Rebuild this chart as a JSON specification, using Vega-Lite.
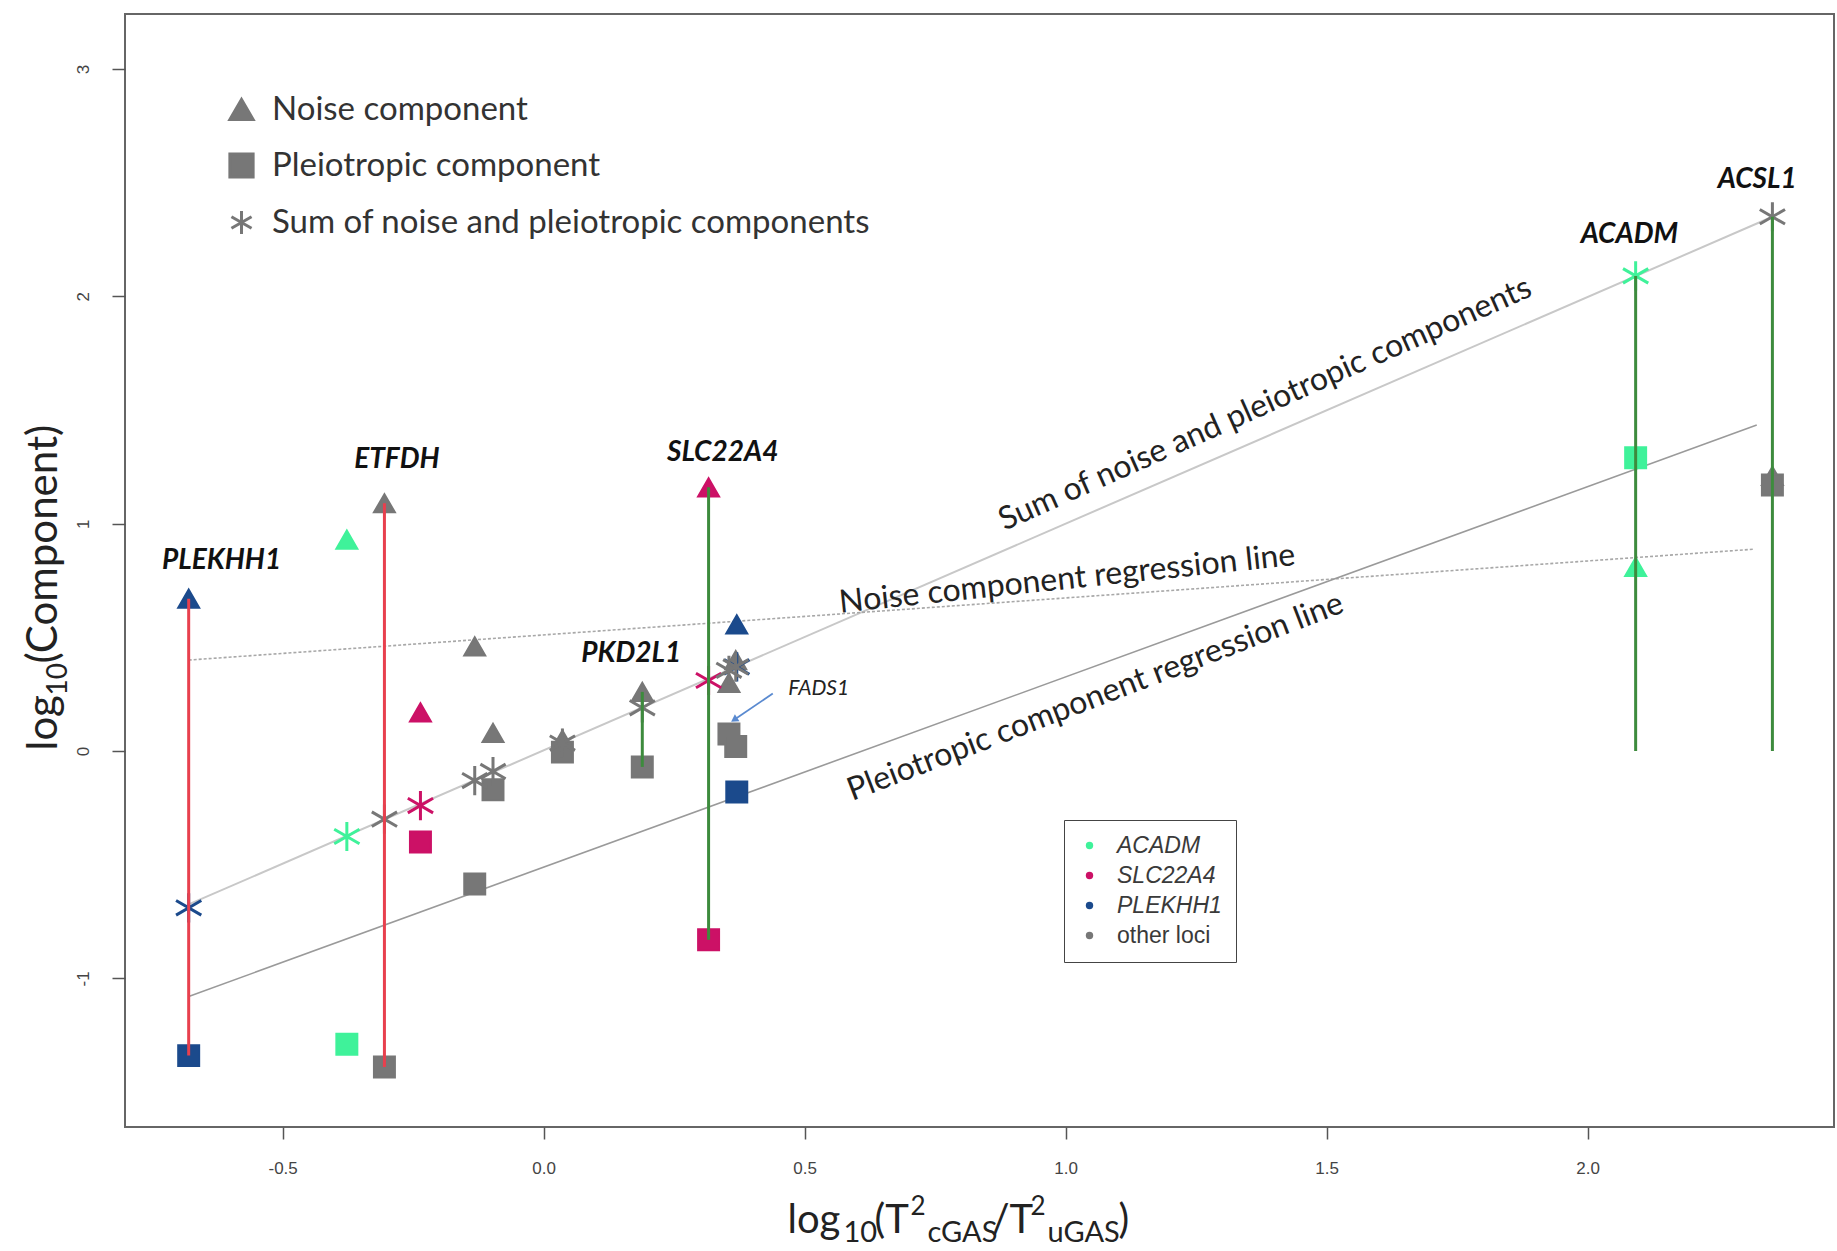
{
  "$schema": "https://vega.github.io/schema/vega-lite/v6.json",
  "width": 1709,
  "height": 1113,
  "autosize": {"type": "none"},
  "padding": {"left": 125, "top": 14, "right": 3, "bottom": 124},
  "background": "white",
  "config": {
    "view": {"stroke": "#666666", "strokeWidth": 2},
    "axis": {"grid": false}
  },
  "datasets": {
    "pts": [
      {"x": -0.680, "y": 0.67, "locus": "PLEKHH1", "comp": "Noise component"},
      {"x": -0.680, "y": -0.69, "locus": "PLEKHH1", "comp": "Sum of noise and pleiotropic components"},
      {"x": -0.680, "y": -1.34, "locus": "PLEKHH1", "comp": "Pleiotropic component"},
      {"x": 0.370, "y": 0.557, "locus": "PLEKHH1", "comp": "Noise component"},
      {"x": 0.370, "y": 0.37, "locus": "PLEKHH1", "comp": "Sum of noise and pleiotropic components"},
      {"x": 0.370, "y": -0.18, "locus": "PLEKHH1", "comp": "Pleiotropic component"},
      {"x": -0.377, "y": 0.93, "locus": "ACADM", "comp": "Noise component"},
      {"x": -0.377, "y": -0.376, "locus": "ACADM", "comp": "Sum of noise and pleiotropic components"},
      {"x": -0.377, "y": -1.29, "locus": "ACADM", "comp": "Pleiotropic component"},
      {"x": 2.092, "y": 0.81, "locus": "ACADM", "comp": "Noise component"},
      {"x": 2.092, "y": 2.09, "locus": "ACADM", "comp": "Sum of noise and pleiotropic components"},
      {"x": 2.092, "y": 1.29, "locus": "ACADM", "comp": "Pleiotropic component"},
      {"x": -0.236, "y": 0.17, "locus": "SLC22A4", "comp": "Noise component"},
      {"x": -0.236, "y": -0.24, "locus": "SLC22A4", "comp": "Sum of noise and pleiotropic components"},
      {"x": -0.236, "y": -0.40, "locus": "SLC22A4", "comp": "Pleiotropic component"},
      {"x": 0.316, "y": 1.16, "locus": "SLC22A4", "comp": "Noise component"},
      {"x": 0.316, "y": 0.31, "locus": "SLC22A4", "comp": "Sum of noise and pleiotropic components"},
      {"x": 0.316, "y": -0.83, "locus": "SLC22A4", "comp": "Pleiotropic component"},
      {"x": -0.305, "y": 1.09, "locus": "other loci", "comp": "Noise component"},
      {"x": -0.305, "y": -0.30, "locus": "other loci", "comp": "Sum of noise and pleiotropic components"},
      {"x": -0.305, "y": -1.39, "locus": "other loci", "comp": "Pleiotropic component"},
      {"x": -0.132, "y": 0.46, "locus": "other loci", "comp": "Noise component"},
      {"x": -0.132, "y": -0.13, "locus": "other loci", "comp": "Sum of noise and pleiotropic components"},
      {"x": -0.132, "y": -0.585, "locus": "other loci", "comp": "Pleiotropic component"},
      {"x": -0.097, "y": 0.08, "locus": "other loci", "comp": "Noise component"},
      {"x": -0.097, "y": -0.09, "locus": "other loci", "comp": "Sum of noise and pleiotropic components"},
      {"x": -0.097, "y": -0.17, "locus": "other loci", "comp": "Pleiotropic component"},
      {"x": 0.036, "y": 0.05, "locus": "other loci", "comp": "Noise component"},
      {"x": 0.036, "y": 0.035, "locus": "other loci", "comp": "Sum of noise and pleiotropic components"},
      {"x": 0.036, "y": -0.005, "locus": "other loci", "comp": "Pleiotropic component"},
      {"x": 0.189, "y": 0.26, "locus": "other loci", "comp": "Noise component"},
      {"x": 0.189, "y": 0.19, "locus": "other loci", "comp": "Sum of noise and pleiotropic components"},
      {"x": 0.189, "y": -0.07, "locus": "other loci", "comp": "Pleiotropic component"},
      {"x": 0.355, "y": 0.30, "locus": "other loci", "comp": "Noise component"},
      {"x": 0.355, "y": 0.355, "locus": "other loci", "comp": "Sum of noise and pleiotropic components"},
      {"x": 0.355, "y": 0.075, "locus": "other loci", "comp": "Pleiotropic component"},
      {"x": 0.368, "y": 0.40, "locus": "other loci", "comp": "Noise component"},
      {"x": 0.368, "y": 0.37, "locus": "other loci", "comp": "Sum of noise and pleiotropic components"},
      {"x": 0.368, "y": 0.02, "locus": "other loci", "comp": "Pleiotropic component"},
      {"x": 2.354, "y": 1.21, "locus": "other loci", "comp": "Noise component"},
      {"x": 2.354, "y": 2.35, "locus": "other loci", "comp": "Sum of noise and pleiotropic components"},
      {"x": 2.354, "y": 1.17, "locus": "other loci", "comp": "Pleiotropic component"}
    ],
    "segs": [
      {"x": -0.680, "y1": -1.34, "y2": 0.67, "kind": "red"},
      {"x": -0.305, "y1": -1.39, "y2": 1.09, "kind": "red"},
      {"x": 0.189, "y1": -0.07, "y2": 0.26, "kind": "green"},
      {"x": 0.316, "y1": -0.83, "y2": 1.16, "kind": "green"},
      {"x": 2.092, "y1": 0, "y2": 2.09, "kind": "green"},
      {"x": 2.354, "y1": 0, "y2": 2.35, "kind": "green"}
    ],
    "lines": [
      {"line": "sum", "x": -0.68, "y": -0.675},
      {"line": "sum", "x": 2.354, "y": 2.35},
      {"line": "noise", "x": -0.68, "y": 0.40},
      {"line": "noise", "x": 2.32, "y": 0.888},
      {"line": "pleio", "x": -0.68, "y": -1.08},
      {"line": "pleio", "x": 2.324, "y": 1.434}
    ],
    "genes": [
      {"name": "PLEKHH1", "x": -0.617, "y": 0.835},
      {"name": "ETFDH", "x": -0.281, "y": 1.278},
      {"name": "SLC22A4", "x": 0.343, "y": 1.309},
      {"name": "PKD2L1", "x": 0.168, "y": 0.428},
      {"name": "ACADM", "x": 2.080, "y": 2.268},
      {"name": "ACSL1", "x": 2.325, "y": 2.510}
    ]
  },
  "resolve": {"axis": {"x": "independent", "y": "independent"}},
  "layer": [
    {
      "mark": {"type": "rule", "color": "#efefef", "strokeWidth": 1.5},
      "encoding": {"x": {"datum": 0, "type": "quantitative", "axis": null}}
    },
    {
      "mark": {"type": "rule", "color": "#efefef", "strokeWidth": 1.5},
      "encoding": {"y": {"datum": 0, "type": "quantitative", "axis": null}}
    },
    {
      "data": {"name": "lines"},
      "transform": [{"filter": "datum.line == 'sum'"}],
      "mark": {"type": "line", "color": "#c8c8c8", "strokeWidth": 2},
      "encoding": {
        "x": {"field": "x", "type": "quantitative", "axis": null},
        "y": {"field": "y", "type": "quantitative", "axis": null}
      }
    },
    {
      "data": {"name": "lines"},
      "transform": [{"filter": "datum.line == 'noise'"}],
      "mark": {"type": "line", "color": "#a8a8a8", "strokeWidth": 1.6, "strokeDash": [3, 2]},
      "encoding": {
        "x": {"field": "x", "type": "quantitative", "axis": null},
        "y": {"field": "y", "type": "quantitative", "axis": null}
      }
    },
    {
      "data": {"name": "lines"},
      "transform": [{"filter": "datum.line == 'pleio'"}],
      "mark": {"type": "line", "color": "#9a9a9a", "strokeWidth": 1.6},
      "encoding": {
        "x": {"field": "x", "type": "quantitative", "axis": null},
        "y": {"field": "y", "type": "quantitative", "axis": null}
      }
    },
    {
      "data": {"name": "pts"},
      "transform": [{"filter": "datum.comp != 'Sum of noise and pleiotropic components'"}],
      "mark": {"type": "point", "filled": true, "opacity": 1, "strokeWidth": 2, "size": 440},
      "encoding": {
        "x": {
          "field": "x", "type": "quantitative",
          "scale": {"domain": [-0.802, 2.472], "nice": false, "zero": false},
          "axis": {
            "orient": "bottom", "title": null, "values": [-0.5, 0, 0.5, 1, 1.5, 2],
            "format": ".1f", "labelExpr": "replace(datum.label, '−', '-')",
            "domain": false, "tickColor": "#555555", "tickWidth": 1.5, "tickSize": 12,
            "labelFont": "Liberation Sans", "labelFontSize": 17, "labelColor": "#444444", "labelPadding": 21
          }
        },
        "y": {
          "field": "y", "type": "quantitative",
          "scale": {"domain": [-1.654, 3.242], "nice": false, "zero": false},
          "axis": {
            "orient": "left", "title": null, "values": [-1, 0, 1, 2, 3],
            "format": "d", "labelExpr": "replace(datum.label, '−', '-')",
            "domain": false, "tickColor": "#555555", "tickWidth": 1.5, "tickSize": 13,
            "labelFont": "Liberation Sans", "labelFontSize": 17, "labelColor": "#444444",
            "labelAngle": -90, "labelAlign": "center", "labelBaseline": "bottom", "labelPadding": 20
          }
        },
        "shape": {
          "field": "comp", "type": "nominal",
          "scale": {
            "domain": ["Noise component", "Pleiotropic component", "Sum of noise and pleiotropic components"],
            "range": ["triangle-up", "square", "M0,-1L0,1M-0.866,-0.5L0.866,0.5M-0.866,0.5L0.866,-0.5"]
          },
          "legend": {
            "title": null, "orient": "none", "legendX": 100, "legendY": 79, "padding": 0,
            "symbolSize": 540, "symbolFillColor": "#777777", "symbolStrokeColor": "#777777",
            "symbolStrokeWidth": 3, "labelFont": "Lato", "labelFontSize": 33,
            "labelColor": "#333333", "labelOffset": 14, "rowPadding": 20, "labelLimit": 900
          }
        },
        "color": {
          "field": "locus", "type": "nominal",
          "scale": {
            "domain": ["ACADM", "SLC22A4", "PLEKHH1", "other loci"],
            "range": ["#3ff29a", "#cc1166", "#1b4a8c", "#777777"]
          },
          "legend": {
            "title": null, "orient": "none", "legendX": 939, "legendY": 806, "padding": 14,
            "strokeColor": "#444444", "fillColor": "white",
            "symbolType": "circle", "symbolSize": 55, "symbolStrokeWidth": 0,
            "labelFont": "Liberation Sans", "labelFontSize": 23, "labelColor": "#3a3a3a",
            "labelFontStyle": {"expr": "datum.label == 'other loci' ? 'normal' : 'italic'"},
            "labelOffset": 16, "rowPadding": 6
          }
        },
        "stroke": {
          "field": "locus", "type": "nominal",
          "scale": {
            "domain": ["ACADM", "SLC22A4", "PLEKHH1", "other loci"],
            "range": ["#3ff29a", "#cc1166", "#1b4a8c", "#777777"]
          },
          "legend": null
        }
      }
    },
    {
      "data": {"name": "pts"},
      "transform": [{"filter": "datum.comp == 'Sum of noise and pleiotropic components'"}],
      "mark": {"type": "point", "filled": true, "opacity": 1, "strokeWidth": 3, "size": 850},
      "encoding": {
        "x": {"field": "x", "type": "quantitative", "axis": null},
        "y": {"field": "y", "type": "quantitative", "axis": null},
        "shape": {"field": "comp", "type": "nominal"},
        "color": {"field": "locus", "type": "nominal"},
        "stroke": {"field": "locus", "type": "nominal", "legend": null}
      }
    },
    {
      "data": {"name": "segs"},
      "transform": [{"filter": "datum.kind == 'red'"}],
      "mark": {"type": "rule", "color": "#e8404e", "strokeWidth": 3},
      "encoding": {
        "x": {"field": "x", "type": "quantitative", "axis": null},
        "y": {"field": "y1", "type": "quantitative", "axis": null},
        "y2": {"field": "y2"}
      }
    },
    {
      "data": {"name": "segs"},
      "transform": [{"filter": "datum.kind == 'green'"}],
      "mark": {"type": "rule", "color": "#3d8b3d", "strokeWidth": 3},
      "encoding": {
        "x": {"field": "x", "type": "quantitative", "axis": null},
        "y": {"field": "y1", "type": "quantitative", "axis": null},
        "y2": {"field": "y2"}
      }
    },
    {
      "data": {"name": "genes"},
      "mark": {"type": "text", "font": "Lato", "fontSize": 28, "fontStyle": "italic", "fontWeight": "bold", "color": "#111111", "baseline": "middle"},
      "encoding": {
        "x": {"field": "x", "type": "quantitative", "axis": null},
        "y": {"field": "y", "type": "quantitative", "axis": null},
        "text": {"field": "name"}
      }
    },
    {
      "data": {"values": [{"name": "FADS1", "x": 0.527, "y": 0.273}]},
      "mark": {"type": "text", "font": "Lato", "fontSize": 21, "fontStyle": "italic", "color": "#222222", "baseline": "middle"},
      "encoding": {
        "x": {"field": "x", "type": "quantitative", "axis": null},
        "y": {"field": "y", "type": "quantitative", "axis": null},
        "text": {"field": "name"}
      }
    },
    {
      "data": {"values": [{"x1": 0.439, "y1": 0.253, "x2": 0.365, "y2": 0.137}]},
      "mark": {"type": "rule", "color": "#5a8ad0", "strokeWidth": 1.8},
      "encoding": {
        "x": {"field": "x1", "type": "quantitative", "axis": null},
        "y": {"field": "y1", "type": "quantitative", "axis": null},
        "x2": {"field": "x2"},
        "y2": {"field": "y2"}
      }
    },
    {
      "data": {"values": [{"x": 0.365, "y": 0.137}]},
      "mark": {"type": "point", "shape": "triangle-up", "filled": true, "color": "#5a8ad0", "size": 70, "angle": 236.6, "opacity": 1},
      "encoding": {
        "x": {"field": "x", "type": "quantitative", "axis": null},
        "y": {"field": "y", "type": "quantitative", "axis": null}
      }
    },
    {
      "data": {"values": [{"t": "Sum of noise and pleiotropic components", "x": 1.382, "y": 1.527}]},
      "mark": {"type": "text", "font": "Lato", "fontSize": 32, "color": "#222222", "angle": -24, "align": "center", "baseline": "middle"},
      "encoding": {
        "x": {"field": "x", "type": "quantitative", "axis": null},
        "y": {"field": "y", "type": "quantitative", "axis": null},
        "text": {"field": "t"}
      }
    },
    {
      "data": {"values": [{"t": "Noise component regression line", "x": 1.003, "y": 0.757}]},
      "mark": {"type": "text", "font": "Lato", "fontSize": 32, "color": "#222222", "angle": -6, "align": "center", "baseline": "middle"},
      "encoding": {
        "x": {"field": "x", "type": "quantitative", "axis": null},
        "y": {"field": "y", "type": "quantitative", "axis": null},
        "text": {"field": "t"}
      }
    },
    {
      "data": {"values": [{"t": "Pleiotropic component regression line", "x": 1.057, "y": 0.238}]},
      "mark": {"type": "text", "font": "Lato", "fontSize": 32, "color": "#222222", "angle": -21, "align": "center", "baseline": "middle"},
      "encoding": {
        "x": {"field": "x", "type": "quantitative", "axis": null},
        "y": {"field": "y", "type": "quantitative", "axis": null},
        "text": {"field": "t"}
      }
    },
    {
      "mark": {"type": "point", "opacity": 0},
      "encoding": {"x": {"datum": 0, "type": "quantitative", "axis": {"orient": "bottom", "title": "log", "titleX": 662, "titleY": 105, "titleAlign": "left", "titleBaseline": "alphabetic", "titleFont": "Lato", "titleFontSize": 40, "titleFontWeight": "normal", "titleColor": "#222222", "labels": false, "ticks": false, "domain": false}}}
    },
    {
      "mark": {"type": "point", "opacity": 0},
      "encoding": {"x": {"datum": 0, "type": "quantitative", "axis": {"orient": "bottom", "title": "10", "titleX": 718, "titleY": 114, "titleAlign": "left", "titleBaseline": "alphabetic", "titleFont": "Lato", "titleFontSize": 29, "titleFontWeight": "normal", "titleColor": "#222222", "labels": false, "ticks": false, "domain": false}}}
    },
    {
      "mark": {"type": "point", "opacity": 0},
      "encoding": {"x": {"datum": 0, "type": "quantitative", "axis": {"orient": "bottom", "title": "(T", "titleX": 749, "titleY": 105, "titleAlign": "left", "titleBaseline": "alphabetic", "titleFont": "Lato", "titleFontSize": 40, "titleFontWeight": "normal", "titleColor": "#222222", "labels": false, "ticks": false, "domain": false}}}
    },
    {
      "mark": {"type": "point", "opacity": 0},
      "encoding": {"x": {"datum": 0, "type": "quantitative", "axis": {"orient": "bottom", "title": "2", "titleX": 785, "titleY": 87, "titleAlign": "left", "titleBaseline": "alphabetic", "titleFont": "Lato", "titleFontSize": 26, "titleFontWeight": "normal", "titleColor": "#222222", "labels": false, "ticks": false, "domain": false}}}
    },
    {
      "mark": {"type": "point", "opacity": 0},
      "encoding": {"x": {"datum": 0, "type": "quantitative", "axis": {"orient": "bottom", "title": "cGAS", "titleX": 802, "titleY": 114, "titleAlign": "left", "titleBaseline": "alphabetic", "titleFont": "Lato", "titleFontSize": 29, "titleFontWeight": "normal", "titleColor": "#222222", "labels": false, "ticks": false, "domain": false}}}
    },
    {
      "mark": {"type": "point", "opacity": 0},
      "encoding": {"x": {"datum": 0, "type": "quantitative", "axis": {"orient": "bottom", "title": "/T", "titleX": 866, "titleY": 105, "titleAlign": "left", "titleBaseline": "alphabetic", "titleFont": "Lato", "titleFontSize": 40, "titleFontWeight": "normal", "titleColor": "#222222", "labels": false, "ticks": false, "domain": false}}}
    },
    {
      "mark": {"type": "point", "opacity": 0},
      "encoding": {"x": {"datum": 0, "type": "quantitative", "axis": {"orient": "bottom", "title": "2", "titleX": 905, "titleY": 87, "titleAlign": "left", "titleBaseline": "alphabetic", "titleFont": "Lato", "titleFontSize": 26, "titleFontWeight": "normal", "titleColor": "#222222", "labels": false, "ticks": false, "domain": false}}}
    },
    {
      "mark": {"type": "point", "opacity": 0},
      "encoding": {"x": {"datum": 0, "type": "quantitative", "axis": {"orient": "bottom", "title": "uGAS", "titleX": 922, "titleY": 114, "titleAlign": "left", "titleBaseline": "alphabetic", "titleFont": "Lato", "titleFontSize": 29, "titleFontWeight": "normal", "titleColor": "#222222", "labels": false, "ticks": false, "domain": false}}}
    },
    {
      "mark": {"type": "point", "opacity": 0},
      "encoding": {"x": {"datum": 0, "type": "quantitative", "axis": {"orient": "bottom", "title": ")", "titleX": 993, "titleY": 105, "titleAlign": "left", "titleBaseline": "alphabetic", "titleFont": "Lato", "titleFontSize": 40, "titleFontWeight": "normal", "titleColor": "#222222", "labels": false, "ticks": false, "domain": false}}}
    },
    {
      "mark": {"type": "point", "opacity": 0},
      "encoding": {"y": {"datum": 0, "type": "quantitative", "axis": {"orient": "left", "title": "log", "titleX": -69, "titleY": 736, "titleAngle": -90, "titleAlign": "left", "titleBaseline": "alphabetic", "titleFont": "Lato", "titleFontSize": 42, "titleFontWeight": "normal", "titleColor": "#222222", "labels": false, "ticks": false, "domain": false}}}
    },
    {
      "mark": {"type": "point", "opacity": 0},
      "encoding": {"y": {"datum": 0, "type": "quantitative", "axis": {"orient": "left", "title": "10", "titleX": -59, "titleY": 681, "titleAngle": -90, "titleAlign": "left", "titleBaseline": "alphabetic", "titleFont": "Lato", "titleFontSize": 28, "titleFontWeight": "normal", "titleColor": "#222222", "labels": false, "ticks": false, "domain": false}}}
    },
    {
      "mark": {"type": "point", "opacity": 0},
      "encoding": {"y": {"datum": 0, "type": "quantitative", "axis": {"orient": "left", "title": "(Component)", "titleX": -69, "titleY": 649, "titleAngle": -90, "titleAlign": "left", "titleBaseline": "alphabetic", "titleFont": "Lato", "titleFontSize": 42, "titleFontWeight": "normal", "titleColor": "#222222", "labels": false, "ticks": false, "domain": false}}}
    }
  ]
}
